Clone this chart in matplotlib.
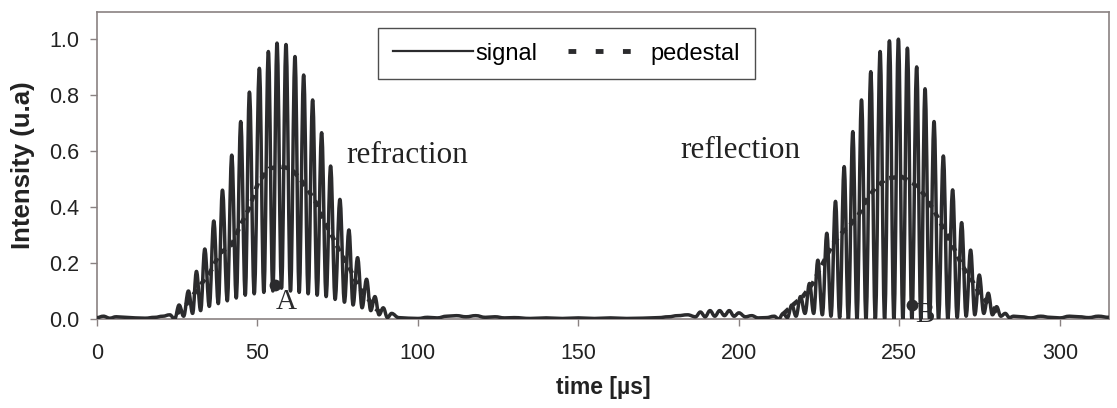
import matplotlib
matplotlib.use("Agg")
import matplotlib.pyplot as plt
from matplotlib.path import Path
from matplotlib.patches import PathPatch
from matplotlib.lines import Line2D
import numpy as np

plt.rcParams['font.family'] = ['Liberation Sans', 'DejaVu Sans']

# --- data (time in µs, intensity in u.a) ---
noise_left_t = [0, 2, 4, 6, 9, 12, 15, 18, 20.5]
noise_left_v = [0.005, 0.01, 0.003, 0.008, 0.006, 0.004, 0.003, 0.006, 0.01]

burst1_peak_t = [22.7, 25.6, 28.5, 31.0, 33.6, 36.4, 39.1, 42.0, 44.8, 47.5, 50.6, 53.4, 56.1,
                 58.9, 61.7, 64.4, 67.2, 70.0, 72.8, 75.7, 78.5, 81.2, 84.0, 86.6, 89.2, 91.8]
burst1_peak_v = [0.015, 0.05, 0.10, 0.17, 0.25, 0.35, 0.46, 0.585, 0.705, 0.81, 0.895, 0.955, 0.985,
                 0.98, 0.937, 0.871, 0.782, 0.665, 0.546, 0.427, 0.318, 0.219, 0.142, 0.08, 0.04, 0.02]
burst1_trough_t = [24.2, 27.0, 29.8, 32.3, 35.0, 37.8, 40.6, 43.4, 46.2, 49.0, 52.0, 54.8, 57.5,
                   60.3, 63.0, 65.8, 68.6, 71.4, 74.2, 77.1, 79.8, 82.6, 85.3, 87.9, 90.5]
burst1_trough_v = [0.0, 0.01, 0.02, 0.03, 0.045, 0.055, 0.065, 0.075, 0.085, 0.09, 0.095, 0.10, 0.11,
                   0.10, 0.095, 0.09, 0.085, 0.08, 0.07, 0.06, 0.05, 0.04, 0.03, 0.015, 0.005]

noise_mid_t = [94, 97, 100, 103, 106, 109, 112, 115, 118, 121, 124, 127, 130, 135, 140, 145, 150,
               155, 160, 165, 170, 175, 178, 181, 184, 186.5, 188, 189.5, 191, 192.5, 194, 195.5,
               197, 198.5, 200, 202, 204, 206, 208.5]
noise_mid_v = [0.005, 0.003, 0.002, 0.006, 0.004, 0.01, 0.012, 0.008, 0.012, 0.006, 0.008, 0.004,
               0.005, 0.002, 0.004, 0.002, 0.004, 0.002, 0.004, 0.002, 0.003, 0.005, 0.008, 0.012,
               0.015, 0.008, 0.025, 0.008, 0.03, 0.01, 0.03, 0.012, 0.03, 0.01, 0.022, 0.008, 0.012,
               0.004, 0.005]

burst2_peak_t = [211.0, 213.8, 216.5, 219.2, 222.0, 224.6, 227.4, 230.1, 232.8, 235.5, 238.2, 241.1,
                 244.0, 246.9, 249.7, 252.5, 255.4, 258.0, 260.8, 263.7, 266.6, 269.4, 272.2, 274.9,
                 277.7, 280.3, 283.0, 285.6]
burst2_peak_v = [0.01, 0.02, 0.05, 0.08, 0.127, 0.21, 0.306, 0.42, 0.544, 0.669, 0.782, 0.883,
                 0.955, 0.993, 0.999, 0.967, 0.90, 0.822, 0.705, 0.582, 0.461, 0.344, 0.246, 0.157,
                 0.092, 0.044, 0.02, 0.01]
burst2_trough_t = [212.4, 215.1, 217.8, 220.6, 223.3, 226.0, 228.7, 231.4, 234.1, 236.8, 239.6,
                   242.5, 245.4, 248.3, 251.1, 253.9, 256.7, 259.4, 262.2, 265.1, 268.0, 270.8,
                   273.5, 276.3, 279.0, 281.6, 284.3]
burst2_trough_v = [0.0, 0.005, 0.01, 0.02, 0.02, 0.015, 0.01, 0.005, 0.0, 0.0, 0.0, 0.0, 0.0, 0.0,
                   0.0, 0.0, 0.0, 0.0, 0.0, 0.0, 0.005, 0.01, 0.015, 0.02, 0.015, 0.01, 0.005]

noise_right_t = [288, 291, 294, 297, 300, 303, 306, 309, 312, 315.3]
noise_right_v = [0.008, 0.004, 0.01, 0.006, 0.004, 0.01, 0.008, 0.005, 0.01, 0.006]

ped1_t = [25, 27.4, 30, 32.6, 35.2, 38.3, 42, 44.5, 47.4, 50.3, 53.9, 57, 59.1, 61, 63.2, 65.8,
          68.4, 70.5, 73.1, 75.7, 78.6, 81.4, 84, 86.6, 89]
ped1_v = [0.02, 0.045, 0.086, 0.127, 0.165, 0.235, 0.265, 0.33, 0.395, 0.49, 0.538, 0.544, 0.54,
          0.53, 0.502, 0.46, 0.413, 0.354, 0.30, 0.24, 0.185, 0.115, 0.08, 0.04, 0.015]
ped2_t = [214, 216.8, 219.9, 223, 226.2, 229.4, 232.3, 234.6, 237.2, 239.8, 242.4, 246, 250.7,
          254.3, 257.4, 261, 263.7, 266.8, 269.4, 272.5, 275, 278, 281]
ped2_v = [0.02, 0.05, 0.08, 0.127, 0.2, 0.27, 0.31, 0.335, 0.37, 0.425, 0.467, 0.502, 0.508,
          0.485, 0.449, 0.383, 0.324, 0.258, 0.193, 0.14, 0.09, 0.05, 0.02]

marker_labels = ["A", "B"]
marker_t = [55.5, 253.9]
marker_v = [0.12, 0.05]

x_ticks = [0, 50, 100, 150, 200, 250, 300]
y_ticks = [0.0, 0.2, 0.4, 0.6, 0.8, 1.0]

LINE = "#2b2b2d"
FRAME = "#8a8282"


def smooth_path(ts, vs):
    # Excel-like smoothed line: cubic segments with flat tangents at each point
    verts = [(ts[0], vs[0])]
    codes = [Path.MOVETO]
    for i in range(1, len(ts)):
        d = ts[i] - ts[i - 1]
        verts += [(ts[i - 1] + 0.4 * d, vs[i - 1]), (ts[i] - 0.4 * d, vs[i]), (ts[i], vs[i])]
        codes += [Path.CURVE4] * 3
    return Path(verts, codes)


sig_t = np.concatenate([noise_left_t, burst1_peak_t, burst1_trough_t, noise_mid_t,
                        burst2_peak_t, burst2_trough_t, noise_right_t])
sig_v = np.concatenate([noise_left_v, burst1_peak_v, burst1_trough_v, noise_mid_v,
                        burst2_peak_v, burst2_trough_v, noise_right_v])
order = np.argsort(sig_t)
sig_t, sig_v = sig_t[order], sig_v[order]

fig = plt.figure(figsize=(11.17, 4.08), dpi=100)
ax = fig.add_axes([0.0868, 0.2181, 0.906, 0.7525])

ax.add_patch(PathPatch(smooth_path(sig_t, sig_v), facecolor="none", edgecolor=LINE,
                       lw=2.5, joinstyle="round", zorder=3))

for pt, pv in [(ped1_t, ped1_v), (ped2_t, ped2_v)]:
    ax.plot(pt, pv, color=LINE, lw=3.2, dashes=(1.5, 1.3), dash_capstyle="butt", zorder=4)

ax.plot(marker_t, marker_v, "o", color=LINE, ms=7.5, zorder=5)
label_offsets = [(3.5, -0.06), (4.0, -0.035)]
for lab, t, v, (dx, dy) in zip(marker_labels, marker_t, marker_v, label_offsets):
    ax.text(t + dx, v + dy, lab, family="Liberation Serif", fontsize=21, color=LINE,
            ha="center", va="center", zorder=6)

ax.text(96.6, 0.585, "refraction", family="Liberation Serif", fontsize=22.5, color="#222222",
        ha="center", va="center")
ax.text(200.6, 0.60, "reflection", family="Liberation Serif", fontsize=22.5, color="#222222",
        ha="center", va="center")

ax.set_xlim(0, 315.3)
ax.set_ylim(0, 1.096)
ax.set_xticks(x_ticks)
ax.set_yticks(y_ticks)
ax.set_yticklabels([f"{y:.1f}" for y in y_ticks])
ax.tick_params(axis="both", direction="out", length=5, width=1, color=FRAME, labelsize=15.5,
               labelcolor="#222222")
ax.tick_params(axis="y", pad=8)
ax.tick_params(axis="x", pad=12)
for s in ax.spines.values():
    s.set_color(FRAME)
    s.set_linewidth(1.2)

ax.set_xlabel("time [µs]", fontsize=16.5, fontweight="bold", color="#222222", labelpad=9)
ax.set_ylabel("Intensity (u.a)", fontsize=18.5, fontweight="bold", color="#222222", labelpad=10)

handles = [Line2D([], [], color=LINE, lw=1.6),
           Line2D([], [], color=LINE, lw=3.5, dashes=(1.6, 4.0), dash_capstyle="butt")]
leg = ax.legend(handles, ["signal", "pedestal"], ncol=2, loc="upper center",
                bbox_to_anchor=(0.464, 0.948), borderaxespad=0, fontsize=17, frameon=True,
                fancybox=False, handlelength=3.4, handletextpad=0.1, columnspacing=1.3,
                borderpad=0.62, edgecolor="#222222")
leg.get_frame().set_linewidth(1.0)

fig.savefig("out.png", dpi=100, facecolor="white")
